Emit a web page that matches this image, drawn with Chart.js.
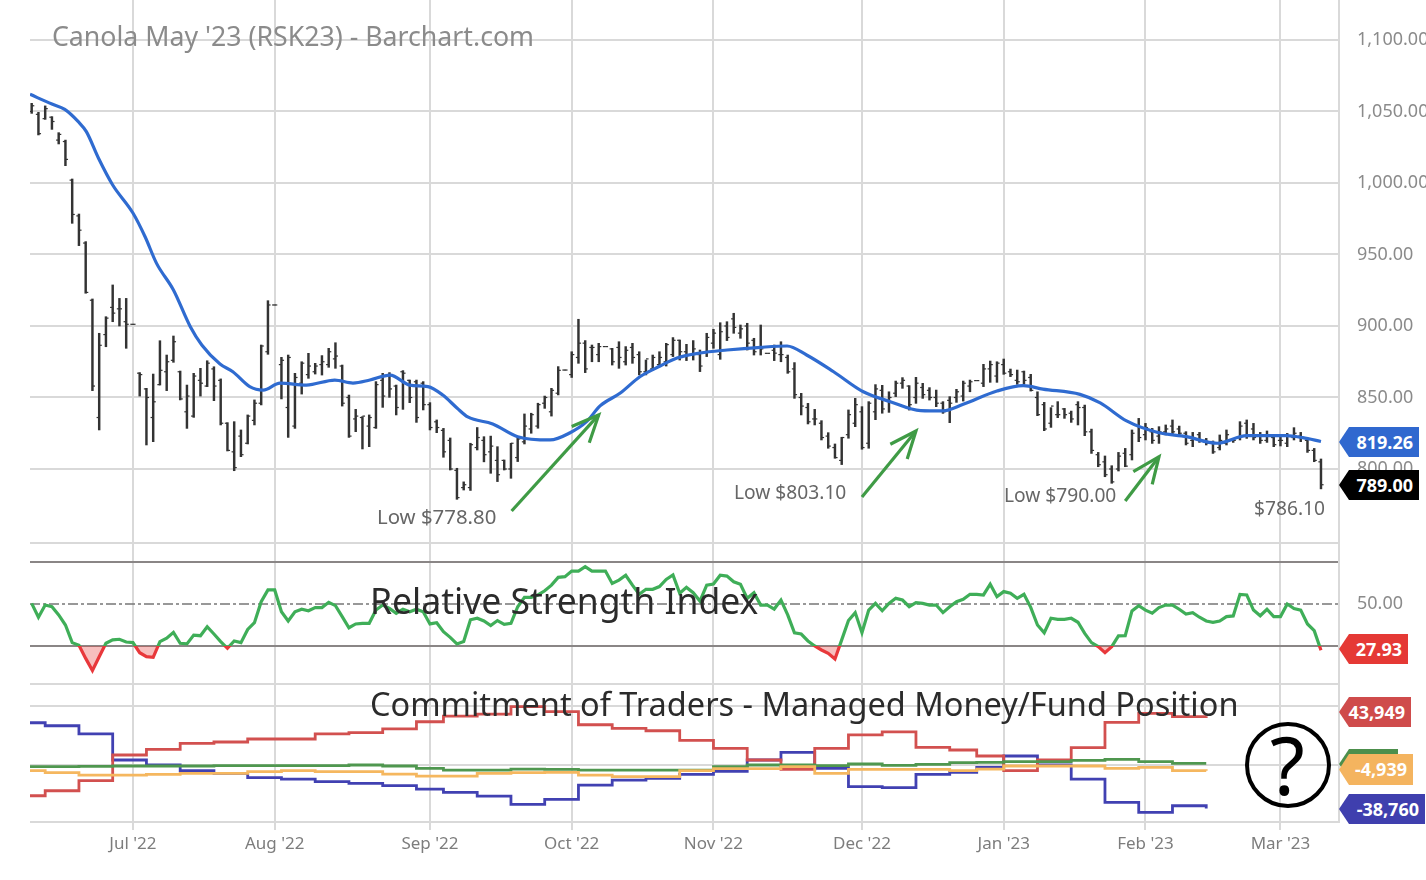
<!DOCTYPE html>
<html>
<head>
<meta charset="utf-8">
<title>Canola May '23</title>
<script src="https://cdn.jsdelivr.net/npm/chart.js@4/dist/chart.umd.min.js"></script>
<style>
html,body{margin:0;padding:0;background:#fff;width:1426px;height:880px;overflow:hidden;font-family:"Noto Sans",sans-serif}
#c{position:absolute;left:0;top:0;filter:blur(0.45px)}
.t{position:absolute;white-space:nowrap;line-height:1;transform:translateY(-50%)}
.tag{position:absolute;left:1339px;height:30px;line-height:30px;color:#fff;font-weight:700;font-size:18px;text-align:right;padding-right:6px;box-sizing:border-box;clip-path:polygon(10px 0,100% 0,100% 100%,10px 100%,0 50%)}
#circ{position:absolute;left:1245px;top:722px;width:86px;height:86px;border:4px solid #000;border-radius:50%;box-sizing:border-box}
</style>
</head>
<body>
<canvas id="c" width="1426" height="880"></canvas>
<div class="t" style="left:52px;top:36px;font-size:26.7px;color:#8b8b8b">Canola May '23 (RSK23) - Barchart.com</div>
<div class="t" style="left:377px;top:516px;font-size:20.4px;color:#666">Low $778.80</div>
<div class="t" style="left:734px;top:492px;font-size:19.2px;color:#666">Low $803.10</div>
<div class="t" style="left:1004px;top:495px;font-size:19.2px;color:#666">Low $790.00</div>
<div class="t" style="left:1254px;top:508px;font-size:19.2px;color:#666">$786.10</div>
<div class="t" style="left:370px;top:601px;font-size:35.5px;color:#2b2b2b">Relative Strength Index</div>
<div class="t" style="left:370px;top:704px;font-size:32.5px;color:#2b2b2b">Commitment of Traders - Managed Money/Fund Position</div>
<div class="tag" style="top:427px;width:80px;background:#3068cf">819.26</div>
<div class="tag" style="top:470px;width:80px;background:#000">789.00</div>
<div class="tag" style="top:634px;width:69px;background:#e53935">27.93</div>
<div class="tag" style="top:697px;width:72px;background:#cf4b4b">43,949</div>
<div class="tag" style="top:749px;width:59px;background:#4c8f4c">&nbsp;</div>
<div class="tag" style="top:754px;width:74px;height:31px;background:#f4b45f">-4,939</div>
<div class="tag" style="top:794px;width:86px;background:#3f3fae">-38,760</div>
<div id="circ"></div>
<div class="t" style="left:1270px;top:764px;font-size:80px;color:#000">?</div>
<script>
const highs = [1055.7,1049.4,1053.9,1046.4,1035.2,1030,1002.8,978.3,959,918.9,
894.9,906.5,928.7,919.3,919.3,901.2,867.4,856.4,866.4,889.7,
879.7,893,868.5,858.7,866.9,870.4,875.7,871.5,863,832.4,
833.1,827.3,837.8,848.3,886.7,917.7,914.7,878.1,879.7,866.9,
875,880.9,873.9,879.3,884.4,888.3,872.7,851.7,841.7,836.6,
837.8,861.1,866.9,867.4,858.7,868.8,862.2,862.2,861.1,846.4,
834.3,828.4,821.7,800.5,791,818,829,822.6,823,815.6,
806.3,818,822.6,838.5,839,846,851,856.4,871.6,869.2,
882,904.7,889.8,886.7,887.9,885.6,884.4,889,885.6,887.9,
882,876.2,879.7,882,887.9,891.9,890.2,887.2,889.8,883.2,
894.9,897.7,902.3,903,908.9,900.7,901.9,891.4,900.7,880.9,
886.7,889,879.7,874.4,852.9,845.9,841.7,833.8,825.4,817.5,
822.2,841.3,849.4,843.6,847.1,859,858.5,854,861.5,863.9,
858.3,864.1,859.9,856.9,855.2,847.1,850.6,855.7,861.5,862.2,
861.8,873.2,875.5,875,876.9,869.9,869.2,868.5,866.2,854,
846.6,842.9,847.1,842.4,840.5,847.1,844.7,827.9,811.6,809.1,
802.3,811.6,814.4,827.3,835.4,831.9,828.4,829.6,830.8,834.3,
830,826.1,825.6,825.6,821.4,819.6,823.8,827.3,821.4,833.1,
834.3,831.9,825.6,826.6,823.8,823.8,824.9,828.9,825.6,820.9,
814.4,807];
const lows = [1048.7,1033.6,1044.5,1037.5,1027.3,1012.1,971.8,956.2,922.9,854.8,
827.3,885.5,903,900,884.4,901.2,851,816.8,819.1,858.7,
854.8,874.6,848.3,828.4,836.1,851,857.6,847.8,830.8,812.6,
798.8,808.6,817.5,830.8,844.8,880.2,914.7,849,822.1,828.4,
852.4,863.4,866.4,865.7,871.1,870.4,844,822.1,826.1,814,
815.6,828.4,843.1,850.1,837.8,841.7,846.4,832.6,841.3,827.3,
825.4,808.2,799.3,778.8,785.3,785,813.3,805,797,791.2,
799.3,793.5,805.2,817.5,825,828.5,842.4,837,851.8,869.2,
864,873.9,867.4,875,875,885.6,872.7,870.4,872.7,873.9,
865.8,865.8,869.2,871.6,872,878.6,876.2,875.8,876.2,868.1,
878.6,884.4,876.7,889.8,894.9,891.4,883.2,879.7,879.7,880.9,
875.8,875,866.9,849.4,837.8,831.5,830.8,820.3,814.5,807.5,
803.1,821.5,829.6,813.8,814.5,834.5,839,839.6,850.6,856.4,
841.2,845.9,849.4,848.2,843.6,838.9,832.4,846.6,847.5,854,
861.8,857.6,860.6,860.6,866.2,864.6,859.2,859.2,854.5,837.3,
826.8,829.1,835.9,835.4,832.6,830.8,823.3,810.9,801.6,794.6,
790,798.6,801.6,806.3,819.1,820.3,817.9,817.9,823.8,823.8,
822.6,816.8,815.6,818.6,816.8,810.9,813.3,816.8,818.6,820.3,
821.4,820.3,817.9,818.6,815.6,816.1,815.6,820.3,819.1,811.6,
805.1,786.1];
const opens = [1050,1048,1045,1046,1030,1029,1002,977,958,918,
836,894,913,912,903,901.2,867,856,836,859,
868,876,868,840,837,862,858,870,862,832,
812,823,818,834,846,882,914.7,873,843,830,
860,866,868,873,873,877,872,850,835,836,
830,829,862,865,858,868,862,861,860,845,
833,827,820,799,787,787,815,820,812,806,
806,800,808,819,828,830,846,840,853,869.2,
866,878,888,885,880,885.6,884,885,875,885,
880,868,870,873,875,880,890,882,880,880,
882,888,880,900,905,895,900,890,885,880.9,
883,880,878,870,850,843,835,832,823,815,
806,824,832,840,818,840,855,848,853,860,
858,850,857,855,850,846,848,850,851,858,
861.8,860,870,865,873,868,862,868,864,850,
845,832,838,842,839,845,843,826,810,805,
800,800,811,810,830,824,826,823,826,830,
828,825,820,824,820,818,815,818,820,822,
832,828,824,820,822,820,818,822,823,820,
813,805];
const closes = [1054,1034.5,1052,1043,1034,1016.5,978,967,923.5,858,
886.5,905.5,909,912,901.2,901.2,866,850,847,869,
875,889,849,851,865,860,874,858,832,813,
801,810,837,846,886,914.7,914.7,876,878,864,
874,872,872,875,882,879,846,823,837,837,
836,859,851,856,843,867,850,836,845,829,
829,812,800,780,789,817,822,810,816,796,
800,818,821,830,838,845,850,855,869,869.2,
880,888,870,885,885.6,885.6,875,878,883,878,
868,877,878,878,887,890,882,880,884,872,
892,895,896,892,899,898,888,882,884,880.9,
881,880,868,852,844,833,835,822,816,808,
822,838,845,815,846,856,842,850,860,862,
845,860,852,850,846,840,846,854,860,861,
861.8,870,873,874,867,866,861,862,855,838,
828,844,838,838,835,843,826,813,803,796,
791,809,802,825,822,829,820,826,828,826,
825,818,822,820,818,812,820,824,820,830,
824,822,820,824,817,820,823,825,822,813,
806,789];
const maIndex = [-0.25,3,4.9,6.9,8.1,9.9,12,15,16.8,18.5,21,23.5,25.2,27.9,29.8,32.3,34.3,36.8,40.7,44.9,47.6,50.1,53.1,56,58.7,60.9,63,64.6,68.3,72,76.8,79.7,82.2,84.2,87.2,90.1,93.1,95.6,99,103,108,111.9,114.8,118.8,123.2,127.2,131.7,135,138,143,146.9,149.8,155.3,158.3,162.2,166.7,171.1,175.6,180,185.9,188.3,191];
const maValues = [1062,1055.2,1051.5,1042.9,1035.9,1017.3,998.6,979,962.4,943.8,925.2,899.5,886.7,873.4,868,857.6,855.2,860.1,858.7,862.2,860.1,862.2,865.7,858.7,857.6,851.7,842.7,836.4,831.5,822.6,820.3,825.2,833.1,844.1,853.1,864.5,872,877.6,881.1,883.2,885.1,886,879.7,868,854,847.1,840.8,840.6,845.2,854.5,858.3,855.9,852.2,846.2,833.6,825.7,822.6,818,823.3,823.3,821.9,819.26];
const rsiValues = [50.3,43.7,49.5,48.7,44.8,40,31.6,30.3,24.1,18.3,
24.9,31.3,32.9,33.2,31.9,31.6,26.8,24.9,24.6,32.1,
33.7,36.5,31.3,31,35.2,34.9,39.2,35.7,32.1,28.9,
32.4,31.6,37.9,41.1,51.1,56.7,56.7,46.3,41.9,46.3,
47.5,46.8,48.3,48.3,50.8,49.2,44,38.7,40.5,40.8,
40.8,47.1,49.5,47.9,45.6,47.5,46.3,47.5,46.3,40.5,
41.1,36.8,34.1,31,32.1,42.5,43.2,41.9,39.7,42.1,
40.3,40.8,48.7,53.2,53.2,54.3,56.3,59,62.7,63,
65.7,65.7,67.8,65.7,65.7,65.7,59.8,61.4,63.7,59,
54.6,57,57,58.3,61.7,63.8,55.1,57.9,55.4,51.4,
59,59.5,63.7,63.3,60.6,59.4,52.7,55.4,49.5,49.5,
47.6,51.9,44.8,36.3,35.7,32.4,30,28.1,26.5,23.8,
32.9,42.1,45.9,36.3,47.1,50.3,46.8,50.3,52.7,51.9,
48.7,50.6,50.3,49.5,49.5,45.9,48.7,51.1,52.2,54.6,
54.6,54.3,59.4,53.5,55.9,55.1,52.7,54.6,48.4,40,
36.3,43.2,42.7,42.7,43.2,41.3,36,31.6,29.7,26.8,
29.7,34.8,34.9,46.7,49.2,47.1,45.6,48.3,49.5,49.5,
47.5,45.2,45.9,43.7,41.9,41.3,41.9,44,44.3,54.6,
54.3,47.1,44.4,47.5,44,44,50,47.8,47.1,40.5,
37.3,27.93];
const cotIndex = [-0.25,2,7,12,17,22,27,32,37,42,47,52,57,61,66,71,76,81,86,91,96,101,106,111,116,121,126,131,136,140,144,149,154,159,164,169,174];
const cotRed = [-27400,-22900,-13900,9200,14300,19700,20900,23600,23600,28100,29300,32600,39100,44200,46000,52600,48100,36400,33100,31000,22400,15200,4700,-3700,15200,27200,29900,16100,13700,8300,-4900,4700,15800,38500,46600,43600,43949];
const cotBlue = [38200,35500,28100,4700,200,-4900,-7300,-11200,-12400,-14800,-16300,-18400,-21400,-24400,-27700,-35200,-30700,-17800,-13300,-11800,-8200,-5500,4700,11600,-2800,-19300,-20200,-8200,-6400,-1900,8300,200,-12400,-33400,-42400,-36400,-38760];
const cotGreen = [-1300,-1300,-1000,-700,-700,-700,-400,-400,-400,-400,200,-700,-2800,-4300,-4300,-3400,-3700,-4300,-4300,-4300,-4300,-1300,200,200,-400,1100,-100,800,2300,2600,3200,3200,4400,5300,3200,1700,1700];
const cotOrange = [-4900,-6700,-8800,-8800,-8200,-7300,-7300,-5800,-4900,-5800,-5800,-7900,-9700,-9700,-7300,-6700,-6400,-8800,-10300,-10300,-4900,-3100,-3100,-1300,-7300,-3700,-3700,-3700,-4900,-3400,-700,-700,-700,-2800,-1900,-4900,-4939];
const monthIndex = [15,36,59,80,101,123,144,165,185];
const monthLabels = ["Jul '22","Aug '22","Sep '22","Oct '22","Nov '22","Dec '22","Jan '23","Feb '23","Mar '23"];
const priceTicks = [800,850,900,950,1000,1050,1100];
const rsiTicks = [11.9,30,50,70,79.05];
const cotTicks = [-51000,0,53000];
const arrowShafts = [[[71.1,770.6],[84,837.8]],[[123,780.4],[131,826.6]],[[162,777.6],[167,808.6]]];
const arrowHeads = [[[80,829.7],[84,837.8],[82.6,818.4]],[[127.2,817.3],[131,826.6],[129.7,807]],[[163.2,798.1],[167,808.6],[166,789.3]]];

const indexes = highs.map((_, i) => i);
const pts = (xs, ys) => xs.map((x, i) => ({x, y: ys[i]}));
const GRID = '#d9d9d9', DARK = '#8a8686';
const tickFont = {family: '"Noto Sans"', size: 18};
const xMin = -0.25, xMax = 193.67;

const arrowSets = [...arrowShafts, ...arrowHeads].map(a => ({
  type: 'line', yAxisID: 'y', xAxisID: 'x', data: a.map(p => ({x: p[0], y: p[1]})),
  borderColor: '#3f9b45', borderWidth: 3.2, pointRadius: 0, tension: 0, order: 0, clip: false
}));
const cotLine = (data, color, order) => ({
  type: 'line', yAxisID: 'yCot', xAxisID: 'x', data: pts(cotIndex, data),
  borderColor: color, borderWidth: 2.8, pointRadius: 0, stepped: 'before', order
});
const refLine = (v, color, width, dash) => ({
  type: 'line', yAxisID: 'yRsi', xAxisID: 'x', data: [{x: xMin, y: v}, {x: xMax, y: v}],
  borderColor: color, borderWidth: width, borderDash: dash || [], pointRadius: 0, order: 9
});
const fixRight = s => { s.width = 87; s.paddingTop = 0; s.paddingBottom = 0; };

new Chart(document.getElementById('c'), {
  type: 'line',
  data: {
    datasets: [
      ...arrowSets,
      {type: 'line', yAxisID: 'y', xAxisID: 'x', data: pts(maIndex, maValues), borderColor: '#2f6bd0', borderWidth: 3.2, pointRadius: 0, cubicInterpolationMode: 'monotone', order: 1},
      {type: 'bar', yAxisID: 'y', xAxisID: 'x', data: indexes.map(i => ({x: i, y: [lows[i], highs[i]]})), backgroundColor: '#333', barThickness: 1.8, grouped: false, order: 3},
      {type: 'line', yAxisID: 'y', xAxisID: 'x', data: pts(indexes, opens), showLine: false, pointStyle: 'dash', rotation: 180, pointRadius: 2.6, pointBorderWidth: 1.2, pointBorderColor: '#333', order: 2},
      {type: 'line', yAxisID: 'y', xAxisID: 'x', data: pts(indexes, closes), showLine: false, pointStyle: 'dash', rotation: 0, pointRadius: 2.6, pointBorderWidth: 1.2, pointBorderColor: '#333', order: 2},
      refLine(50, '#777', 1.5, [10, 3, 3, 3]),
      {type: 'line', yAxisID: 'yRsi', xAxisID: 'x', data: pts(indexes, rsiValues), borderWidth: 3.2, pointRadius: 0, tension: 0, order: 1,
        borderColor: ctx => {
          const chart = ctx.chart;
          if (!chart.chartArea) return '#3fae58';
          const s = chart.scales.yRsi.getPixelForValue(30) / 880;
          const g = chart.ctx.createLinearGradient(0, 0, 0, 880);
          g.addColorStop(0, '#3fae58'); g.addColorStop(s, '#3fae58');
          g.addColorStop(s, '#e8383b'); g.addColorStop(1, '#e8383b');
          return g;
        },
        fill: {target: {value: 30}, above: 'rgba(0,0,0,0)', below: 'rgba(229,57,53,0.32)'}},
      cotLine(cotOrange, '#f5b75f', 1),
      cotLine(cotGreen, '#4f974f', 2),
      cotLine(cotRed, '#d2504f', 3),
      cotLine(cotBlue, '#4141b2', 4)
    ]
  },
  options: {
    responsive: false, animation: false, devicePixelRatio: 1, events: [],
    layout: {autoPadding: false, padding: {left: 30, right: 0, top: 0, bottom: 0}},
    plugins: {legend: {display: false}, tooltip: {enabled: false}},
    scales: {
      x: {type: 'linear', position: 'bottom', min: xMin, max: xMax, offset: false,
        grid: {offset: false, color: GRID, lineWidth: 2, tickLength: 8, drawOnChartArea: true},
        border: {display: false},
        afterBuildTicks: s => { s.ticks = monthIndex.map(value => ({value})); },
        afterFit: s => { s.height = 58; s.paddingLeft = 0; s.paddingRight = 0; },
        ticks: {autoSkip: false, maxRotation: 0, color: '#7d7d7d', font: {family: '"Noto Sans"', size: 17}, padding: 4,
          callback: (v, i) => monthLabels[i]}},
      y: {type: 'linear', position: 'right', stack: 'panes', stackWeight: 543, weight: 1, min: 748.25, max: 1127.97,
        grid: {color: GRID, lineWidth: 2, drawTicks: false},
        border: {display: true, color: GRID, width: 2},
        afterBuildTicks: s => { s.ticks = priceTicks.map(value => ({value})); },
        afterFit: fixRight,
        ticks: {autoSkip: false, color: '#8b8b8b', font: tickFont, padding: 18, align: 'center', crossAlign: 'near',
          callback: v => v.toLocaleString('en-US', {minimumFractionDigits: 2, maximumFractionDigits: 2})}},
      yRsi: {type: 'linear', position: 'right', stack: 'panes', stackWeight: 141, weight: 2, min: 11.9, max: 79.05,
        grid: {drawTicks: false, lineWidth: 2,
          color: c => c.tick.value === 50 ? 'rgba(0,0,0,0)' : (c.tick.value === 30 || c.tick.value === 70 ? DARK : GRID)},
        border: {display: true, color: GRID, width: 2},
        afterBuildTicks: s => { s.ticks = rsiTicks.map(value => ({value})); },
        afterFit: fixRight,
        ticks: {autoSkip: false, color: '#8b8b8b', font: tickFont, padding: 18, crossAlign: 'near',
          callback: v => v === 50 ? '50.00' : ''}},
      yCot: {type: 'linear', position: 'right', stack: 'panes', stackWeight: 138, weight: 3, min: -51000, max: 73000,
        grid: {color: GRID, lineWidth: 2, drawTicks: false},
        border: {display: true, color: GRID, width: 2},
        afterBuildTicks: s => { s.ticks = cotTicks.map(value => ({value})); },
        afterFit: fixRight,
        ticks: {autoSkip: false, padding: 18, callback: () => ''}}
    }
  }
});
</script>
</body>
</html>
